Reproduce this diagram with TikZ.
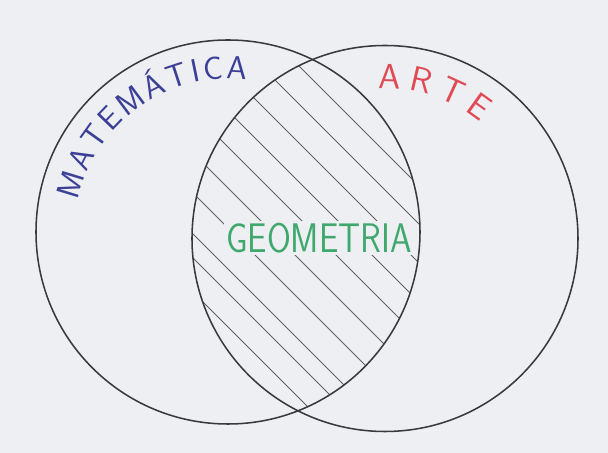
\documentclass[tikz,border=0pt]{standalone}
\usepackage{fontspec}
\usetikzlibrary{calc,decorations.text}
\definecolor{paper}{HTML}{EDEFF3}
\definecolor{pencil}{HTML}{3A3A3C}
\definecolor{matblue}{HTML}{3B3F96}
\definecolor{artered}{HTML}{E04A55}
\definecolor{geogreen}{HTML}{3FA86C}

\begin{document}
\begin{tikzpicture}[x=0.025cm, y=0.025cm,
      setline/.style={draw=pencil, line width=1.1pt},
      hatchline/.style={draw=pencil!80, line width=0.55pt},
      setname/.style={decorate, decoration={text along path, text align={fit to path}}}
    ]
      \fill[paper] (0,0) rectangle (608,453);
      \useasboundingbox (0,0) rectangle (608,453);

      \coordinate (matc) at (228,221);
      \coordinate (artec) at (385,214.5);

      % hatching of the intersection
      \begin{scope}
        \clip (matc) circle[radius=192];
        \clip (artec) circle[radius=193];
        \foreach \d in {233,195,156,117,81,40,0,-41,-65,-99}
          \draw[hatchline] (\d,453) -- ({453+\d},0);
      \end{scope}

      \node[font=\fontsize{24.5}{25}\selectfont\sffamily, text=geogreen,
            fill=paper, inner sep=1.5pt] (geo) at (319,215)
        {\scalebox{1}[1.2]{GEOMETRIA}};

      \draw[setline] (matc) circle[radius=192];
      \draw[setline] (artec) circle[radius=193];

      % set names along the arcs
      \path[setname, decoration={text color=matblue,
            text={|\fontsize{23}{23}\selectfont\sffamily|MATEMÁTICA}}]
        ($(matc)+(168:153)$) arc[start angle=168, end angle=83, radius=153];
      \path[setname, decoration={text color=artered,
            text={|\fontsize{25}{25}\selectfont\sffamily|ARTE}}]
        ($(artec)+(92.5:150)$) arc[start angle=92.5, end angle=50.5, radius=150];
\end{tikzpicture}
\end{document}
